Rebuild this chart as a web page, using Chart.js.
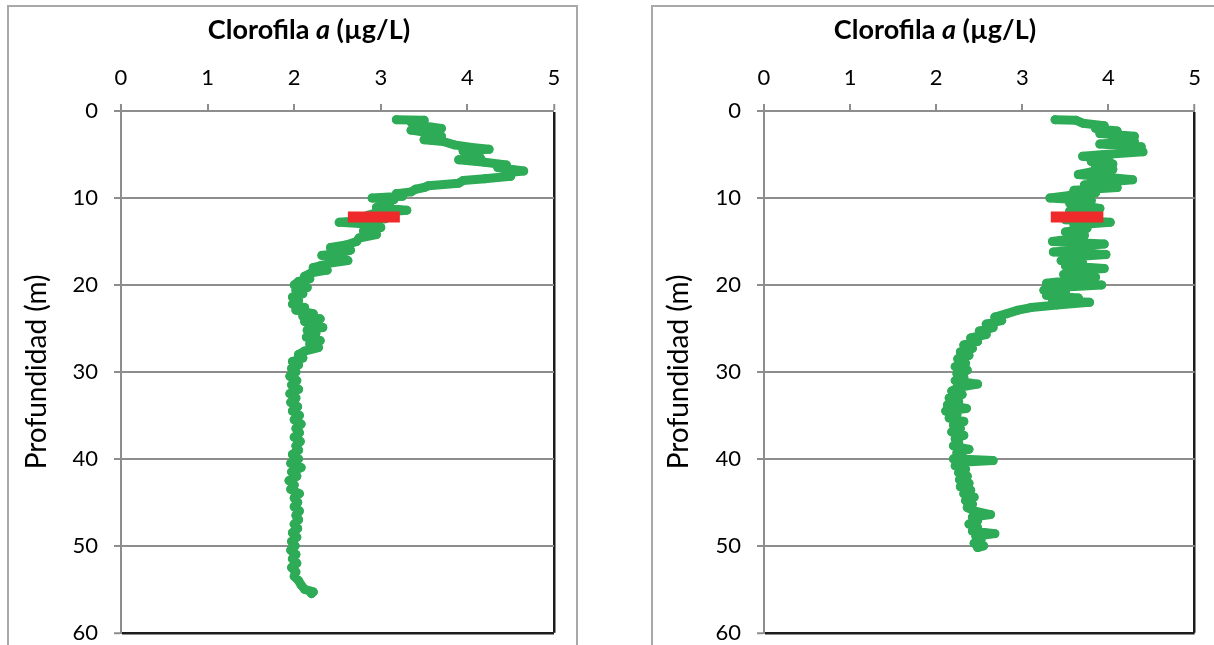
<!DOCTYPE html>
<html><head><meta charset="utf-8">
<script src="https://cdn.jsdelivr.net/npm/chart.js@4.4.1/dist/chart.umd.min.js"></script>
<style>
html,body{margin:0;padding:0;background:#fff;}
body{width:1214px;height:645px;position:relative;overflow:hidden;}
.frame{position:absolute;border:2px solid #a8a8a8;box-sizing:border-box;}
canvas{position:absolute;}
</style></head><body>
<div class="frame" style="left:7px;top:5px;width:571px;height:680px;"></div>
<div class="frame" style="left:651px;top:5px;width:590px;height:680px;"></div>
<canvas id="c1" width="568" height="656" style="left:8px;top:6px;width:568px;height:656px;"></canvas>
<canvas id="c2" width="562" height="656" style="left:652px;top:6px;width:562px;height:656px;"></canvas>
<script>
// ---- data ----
const titleParts = ['Clorofila ', 'a', ' (µg/L)'];
const yTitle = 'Profundidad (m)';
const xTicks = [0, 1, 2, 3, 4, 5];
const yTicks = [0, 10, 20, 30, 40, 50, 60];

const depthA = [1.0,1.05,1.3,1.6,2.0,2.2,2.5,2.9,3.3,3.5,3.9,4.2,4.4,4.6,5.0,5.4,5.6,5.9,6.2,6.5,6.9,7.1,7.5,7.8,8.0,8.3,8.6,8.8,9.0,9.3,9.5,9.8,10.0,10.2,10.5,10.8,11.1,11.4,11.7,12.0,12.4,12.8,13.0,13.4,13.8,14.2,14.6,15.0,15.4,15.7,16.0,16.3,16.6,16.9,17.2,17.5,17.8,18.0,18.3,18.6,19.0,19.3,19.6,20.0,20.3,20.6,21.0,21.4,21.8,22.2,22.6,22.9,23.3,23.6,23.9,24.2,24.5,24.9,25.2,25.6,26.0,26.4,26.8,27.2,27.6,28.0,28.4,28.8,29.2,29.6,30.0,30.5,31.0,31.5,32.0,32.5,33.0,33.5,34.0,34.5,35.0,35.5,36.0,36.5,37.0,37.5,38.0,38.5,39.0,39.5,40.0,40.5,41.0,41.5,42.0,42.5,43.0,43.5,44.0,44.5,45.0,45.5,46.0,46.5,47.0,47.5,48.0,48.5,49.0,49.5,50.0,50.5,51.0,51.5,52.0,52.5,53.0,53.5,54.0,54.5,55.0,55.3,55.5];
const chlA = [3.18,3.50,3.35,3.42,3.70,3.35,3.55,3.70,3.50,3.72,3.85,4.05,4.25,3.95,4.05,4.15,3.90,4.20,4.45,4.35,4.65,4.45,4.50,4.20,3.95,3.90,3.55,3.50,3.40,3.35,3.18,3.25,2.90,3.15,3.05,3.10,2.95,3.30,2.95,2.85,3.05,2.52,2.85,3.00,2.80,2.95,2.75,2.72,2.60,2.42,2.65,2.55,2.32,2.50,2.62,2.40,2.30,2.22,2.38,2.20,2.12,2.18,2.05,2.00,2.15,2.02,2.10,1.98,2.05,1.98,2.12,2.02,2.22,2.10,2.30,2.12,2.20,2.33,2.15,2.25,2.14,2.30,2.18,2.28,2.12,2.05,2.10,1.98,2.05,1.97,2.02,1.95,2.03,1.97,2.05,1.95,2.02,1.96,2.04,1.98,2.06,2.00,2.08,2.02,2.06,2.00,2.07,2.02,2.05,1.98,2.05,1.96,2.08,1.97,2.03,1.94,2.00,1.96,2.06,2.00,2.04,2.00,2.06,2.02,2.05,2.00,2.04,1.98,2.03,1.97,2.01,1.96,2.02,1.98,2.03,1.97,2.02,2.00,2.05,2.08,2.12,2.22,2.20];

const depthB = [1.0,1.05,1.4,1.7,2.0,2.3,2.6,2.9,3.2,3.5,3.8,4.1,4.4,4.7,5.0,5.2,5.5,5.8,6.1,6.4,6.7,7.0,7.3,7.6,7.9,8.2,8.5,8.8,9.1,9.4,9.7,10.0,10.3,10.6,10.9,11.2,11.5,12.0,12.5,12.8,13.1,13.5,13.9,14.3,14.7,15.0,15.3,15.6,15.9,16.2,16.5,16.8,17.2,17.5,17.8,18.1,18.4,18.8,19.1,19.5,19.8,20.0,20.3,20.6,20.9,21.2,21.5,21.8,22.0,22.3,22.6,22.9,23.3,23.7,24.1,24.5,24.9,25.3,25.7,26.1,26.5,26.9,27.3,27.7,28.1,28.5,29.0,29.4,29.8,30.2,30.6,31.0,31.4,31.8,32.2,32.6,33.0,33.4,33.8,34.2,34.5,34.9,35.3,35.7,36.1,36.5,36.9,37.3,37.7,38.1,38.5,38.9,39.3,39.7,40.0,40.2,40.4,40.8,41.2,41.6,42.0,42.4,42.8,43.2,43.6,44.0,44.4,44.8,45.2,45.6,46.0,46.4,46.7,47.1,47.5,47.9,48.3,48.6,48.9,49.3,49.7,50.0,50.2];
const chlB = [3.38,3.62,3.70,3.95,3.85,4.10,3.90,4.30,4.05,4.30,3.90,4.38,4.15,4.40,3.95,3.70,4.00,3.80,4.05,3.85,4.05,3.80,3.65,3.95,4.28,3.95,3.72,4.10,3.60,3.85,3.55,3.32,3.80,3.55,3.70,3.90,3.55,3.70,3.50,4.02,3.60,3.75,3.50,3.72,3.55,3.35,3.95,3.60,3.70,3.36,3.97,3.55,3.45,3.70,3.50,3.95,3.60,3.48,3.85,3.55,3.28,3.92,3.40,3.25,3.50,3.28,3.65,3.35,3.78,3.40,3.10,2.95,2.82,2.68,2.76,2.58,2.66,2.50,2.58,2.40,2.48,2.32,2.42,2.28,2.38,2.25,2.34,2.22,2.36,2.24,2.32,2.22,2.48,2.25,2.18,2.30,2.15,2.26,2.13,2.35,2.11,2.24,2.15,2.32,2.20,2.28,2.18,2.32,2.22,2.26,2.20,2.38,2.24,2.30,2.20,2.66,2.28,2.22,2.34,2.26,2.36,2.27,2.38,2.28,2.40,2.32,2.44,2.34,2.42,2.36,2.45,2.63,2.42,2.48,2.38,2.48,2.42,2.68,2.46,2.52,2.44,2.55,2.48];

// red marker (depth, start chl, end chl)
const markA = {depth: 12.2, from: 2.62, to: 3.22};
const markB = {depth: 12.2, from: 3.33, to: 3.94};

// ---- styling ----
const GREEN = '#2eab56';
const RED = '#ee2a2a';
const GRAY = '#8d8d8d';
const DARK = '#1c1c1c';
const FONT = 'Lato, "Open Sans", sans-serif';

const titlePlugin = {
  id: 'panelTitle',
  afterDraw(chart, args, opts) {
    const ctx = chart.ctx;
    ctx.save();
    ctx.fillStyle = '#000';
    ctx.textBaseline = 'middle';
    const fonts = opts.parts.map((p, i) => (i === 1 ? 'italic bold ' : 'bold ') + opts.size + 'px ' + FONT);
    let total = 0;
    const widths = opts.parts.map((p, i) => { ctx.font = fonts[i]; const w = ctx.measureText(p).width; total += w; return w; });
    let x = opts.cx - total / 2;
    opts.parts.forEach((p, i) => { ctx.font = fonts[i]; ctx.textAlign = 'left'; ctx.fillText(p, x, opts.cy); x += widths[i]; });
    ctx.restore();
  }
};

function makeChart(id, depth, chl, mark, cfg) {
  const pts = depth.map((d, i) => ({x: chl[i], y: d}));
  return new Chart(document.getElementById(id), {
    type: 'scatter',
    data: {
      datasets: [
        {data: [{x: mark.from, y: mark.depth}, {x: mark.to, y: mark.depth}], showLine: true, borderColor: RED, borderWidth: 11, borderCapStyle: 'butt', pointRadius: 0, order: 0},
        {data: pts, showLine: true, borderColor: GREEN, borderWidth: 9, borderJoinStyle: 'round', borderCapStyle: 'round', pointRadius: 4.5, pointBorderWidth: 0, pointBackgroundColor: GREEN, order: 1}
      ]
    },
    options: {
      responsive: false,
      animation: false,
      layout: {padding: {left: 0, top: 0, right: cfg.padRight, bottom: 13}},
      plugins: {
        legend: {display: false},
        tooltip: {enabled: false},
        panelTitle: {parts: titleParts, cx: cfg.titleX, cy: 24, size: 27}
      },
      scales: {
        x: {
          type: 'linear', position: 'top', min: 0, max: 5,
          afterBuildTicks: s => { s.ticks = xTicks.map(v => ({value: v})); },
          afterFit: s => { s.height = 105; },
          ticks: {color: '#000', font: {family: FONT, size: 22}, padding: 13},
          grid: {
            color: c => (c.tick && c.tick.value === 5) ? DARK : 'rgba(0,0,0,0)',
            lineWidth: c => (c.tick && c.tick.value === 5) ? 2.5 : 0,
            tickColor: GRAY, tickWidth: 2, tickLength: 7
          },
          border: {color: GRAY, width: 2}
        },
        y: {
          type: 'linear', reverse: true, min: 0, max: 60,
          afterBuildTicks: s => { s.ticks = yTicks.map(v => ({value: v})); },
          afterFit: s => { s.width = cfg.yWidth; },
          ticks: {color: '#000', font: {family: FONT, size: 22}, padding: 16},
          title: {display: true, text: yTitle, color: '#000', font: {family: FONT, size: 28}, padding: {top: cfg.yTitlePad, bottom: 0}},
          grid: {
            color: c => (c.tick && c.tick.value === 60) ? DARK : GRAY,
            lineWidth: c => (c.tick && c.tick.value === 60) ? 2.5 : 2,
            tickColor: GRAY, tickWidth: 2, tickLength: 7
          },
          border: {color: GRAY, width: 2}
        }
      }
    },
    plugins: [titlePlugin]
  });
}

makeChart('c1', depthA, chlA, markA, {padRight: 22, yWidth: 113, titleX: 301, yTitlePad: 12});
makeChart('c2', depthB, chlB, markB, {padRight: 17, yWidth: 112, titleX: 283, yTitlePad: 10});
</script>
</body></html>
